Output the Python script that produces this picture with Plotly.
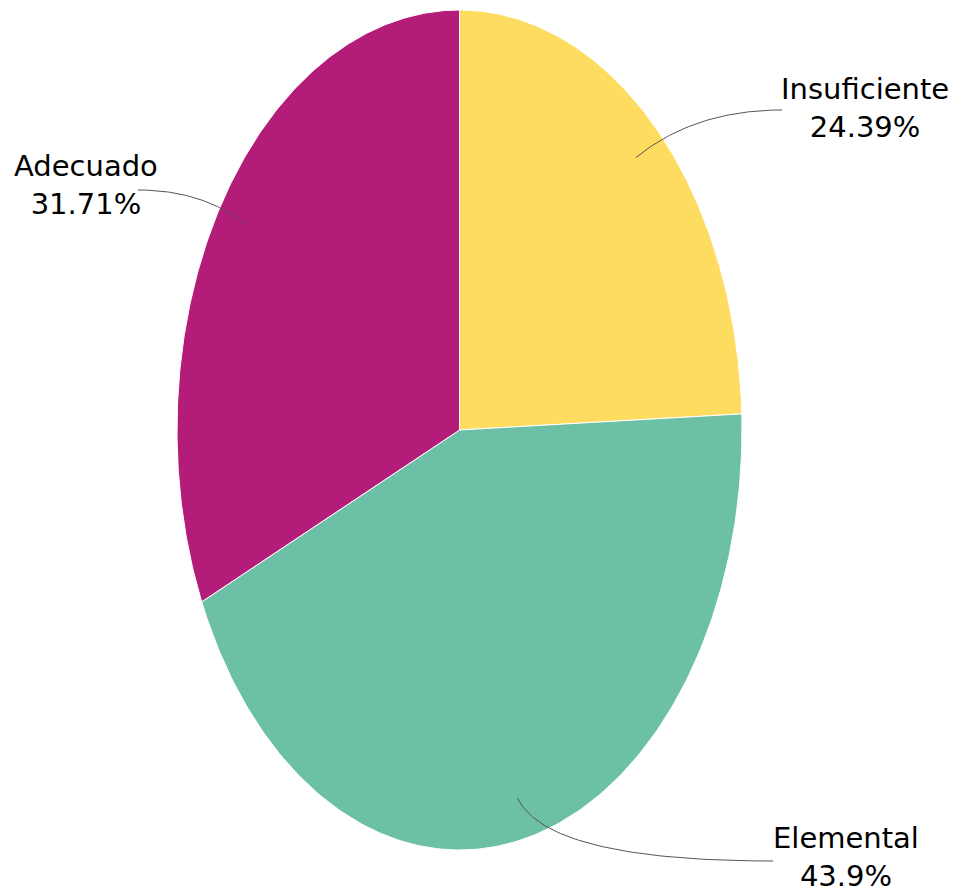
import numpy as np
import plotly.graph_objects as go

# ---- data ----
categories = ["Insuficiente", "Elemental", "Adecuado"]
counts = [10, 18, 13]
colors = ["#FDDC5F", "#6CC0A5", "#B41C7A"]

# ---- layout constants (page pixels from top-left) ----
PAGE_W, PAGE_H = 959, 896
OFF = 8                         # default body margin of the html page
W, H = PAGE_W - OFF, PAGE_H - OFF
CX, CY = 459.5, 430.0          # centre in page pixels
RX, RY = 282.5, 420.0          # ellipse radii
# label placement: (line end x, line end y, text x, text y, control fraction) in page pixels
label_pos = {
    "Insuficiente": (782, 110, 865, 108, 0.40),
    "Elemental": (773, 861, 846, 857, 0.12),
    "Adecuado": (138, 190, 86, 185, 0.40),
}

def to_data(px, py):
    return px - CX, CY - py

total = sum(counts)
pcts = [c / total * 100 for c in counts]

fig = go.Figure()
start = 0.0
for cat, cnt, pct, col in zip(categories, counts, pcts, colors):
    sweep = cnt / total * 2 * np.pi
    th = np.linspace(start, start + sweep, 200)
    xs = np.concatenate([[0], RX * np.sin(th), [0]])
    ys = np.concatenate([[0], RY * np.cos(th), [0]])
    fig.add_trace(go.Scatter(x=xs, y=ys, fill="toself", fillcolor=col, mode="lines",
                             line=dict(color="white", width=1), hoverinfo="text",
                             text=f"{cat}: {pct:.2f}%", showlegend=False))
    mid = start + sweep / 2
    sx, sy = 0.9 * RX * np.sin(mid), 0.9 * RY * np.cos(mid)
    ex_px, ey_px, tx_px, ty_px, frac = label_pos[cat]
    ex, ey = to_data(ex_px, ey_px)
    cx_, cy_ = sx + frac * (ex - sx), ey
    t = np.linspace(0, 1, 60)
    bx = (1 - t) ** 2 * sx + 2 * (1 - t) * t * cx_ + t ** 2 * ex
    by = (1 - t) ** 2 * sy + 2 * (1 - t) * t * cy_ + t ** 2 * ey
    fig.add_trace(go.Scatter(x=bx, y=by, mode="lines", line=dict(color="#555555", width=1),
                             hoverinfo="skip", showlegend=False))
    tx, ty = to_data(tx_px, ty_px)
    lbl = f"{round(pct, 2):g}%"
    fig.add_annotation(x=tx, y=ty, text=f"{cat}<br>{lbl}", showarrow=False,
                       xanchor="center", yanchor="middle", align="center",
                       font=dict(family="DejaVu Sans", size=29, color="#000000"))
    start += sweep

fig.update_layout(
    width=W, height=H, margin=dict(l=0, r=0, t=0, b=0),
    paper_bgcolor="white", plot_bgcolor="white",
    xaxis=dict(range=[OFF - CX, PAGE_W - CX], visible=False, fixedrange=True),
    yaxis=dict(range=[CY - PAGE_H, CY - OFF], visible=False, fixedrange=True),
)
fig.write_html("out.html")
